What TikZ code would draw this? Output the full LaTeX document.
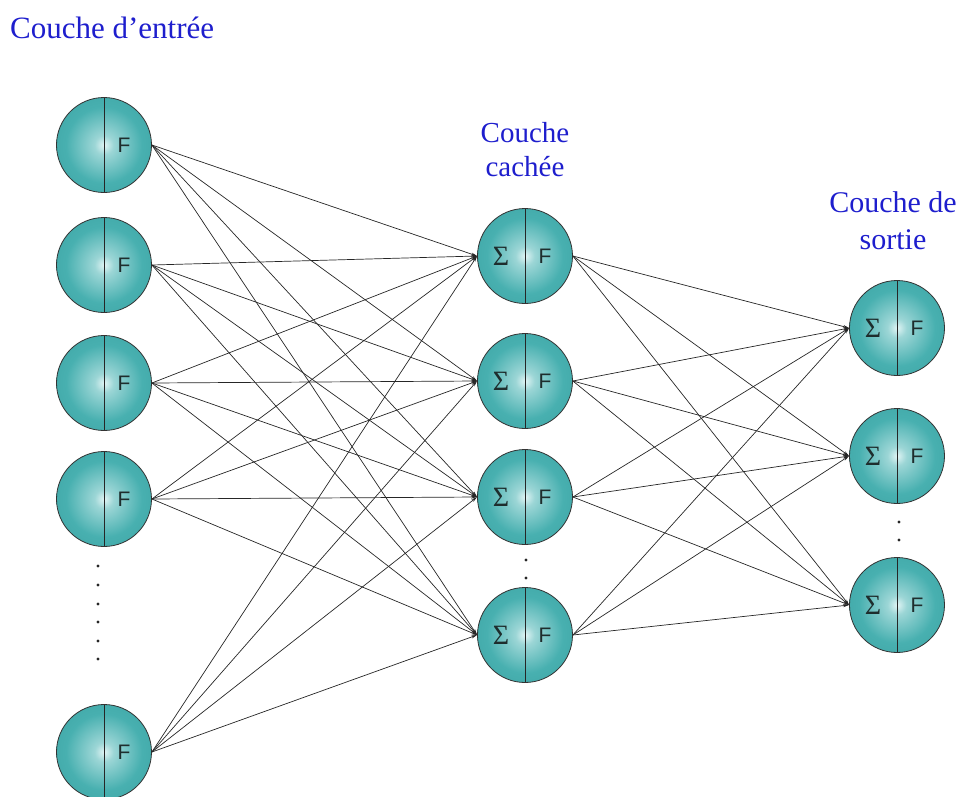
\documentclass[tikz,border=0pt]{standalone}
\usepackage{fontspec}
\setmainfont{Liberation Serif}
\newfontfamily\sansF{Liberation Sans}
\usetikzlibrary{arrows.meta}
\definecolor{ballhl}{RGB}{225,245,245}
\definecolor{ballmid}{RGB}{72,176,176}
\definecolor{balledge}{RGB}{28,128,128}
\definecolor{labelblue}{RGB}{30,30,205}
\definecolor{letterc}{RGB}{30,45,45}
\pgfdeclareradialshading{ballshade}{\pgfpoint{0bp}{0bp}}{color(0bp)=(ballhl); color(5bp)=(ballhl!55!ballmid); color(20bp)=(ballmid); color(38bp)=(ballmid!70!balledge); color(50bp)=(balledge)}
\tikzset{
  neuronbase/.style={circle, minimum size=95pt, inner sep=0pt, shading=ballshade, draw=black!80, line width=0.8pt,
    path picture={\draw[black!85, line width=1pt] (path picture bounding box.north) -- (path picture bounding box.south);
      \node[text=letterc, font=\sansF\fontsize{21}{21}\selectfont] at ([xshift=20pt]path picture bounding box.center) {F};}},
  inneuron/.style={neuronbase},
  sumneuron/.style={neuronbase},
  sumlabel/.style={text=letterc, font=\fontsize{28}{28}\selectfont, inner sep=0pt},
  link/.style={black!85, line width=0.7pt, -{Stealth[length=6pt,width=3pt]}},
  layerlabel/.style={text=labelblue, align=center, inner sep=0pt},
  dotmark/.style={circle, fill=black!85, inner sep=0pt, minimum size=3.4pt}
}
\begin{document}
\begin{tikzpicture}[x=1pt, y=-1pt]
\useasboundingbox (0,0) rectangle (962,796);
% input layer
\node[inneuron] (i1) at (104,145) {};
\node[inneuron] (i2) at (104,265) {};
\node[inneuron] (i3) at (104,383) {};
\node[inneuron] (i4) at (104,499) {};
\node[inneuron] (i5) at (104,752) {};
% hidden layer
\foreach \n/\y in {1/256,2/381,3/497,4/635}{
  \node[sumneuron] (h\n) at (525,\y) {};
  \node[sumlabel] (hs\n) at (501,\y) {Σ};
}
% output layer
\foreach \n/\y in {1/328,2/456,3/605}{
  \node[sumneuron] (o\n) at (897,\y) {};
  \node[sumlabel] (os\n) at (873,\y) {Σ};
}
% connections
\foreach \a in {1,...,5}{
  \foreach \b in {1,...,4}{
    \draw[link] (i\a.east) -- (h\b.west);
  }
}
\foreach \a in {1,...,4}{
  \foreach \b in {1,...,3}{
    \draw[link] (h\a.east) -- (o\b.west);
  }
}
% dots
\foreach \k/\y in {1/566,2/585,3/604,4/622,5/641,6/659}{
  \node[dotmark] (di\k) at (98,\y) {};
}
\node[dotmark] (dh1) at (526,560) {};
\node[dotmark] (dh2) at (526,578) {};
\node[dotmark] (do1) at (899,522) {};
\node[dotmark] (do2) at (899,540) {};
% labels
\node[layerlabel, anchor=base west, font=\fontsize{31}{31}\selectfont] (lin) at (10,38) {Couche d’entrée};
\node[layerlabel, anchor=base, font=\fontsize{29}{34}\selectfont] (lhid) at (525,176) {Couche\\cachée};
\node[layerlabel, anchor=base, font=\fontsize{30}{37}\selectfont] (lout) at (893,249) {Couche de\\sortie};
\end{tikzpicture}
\end{document}
